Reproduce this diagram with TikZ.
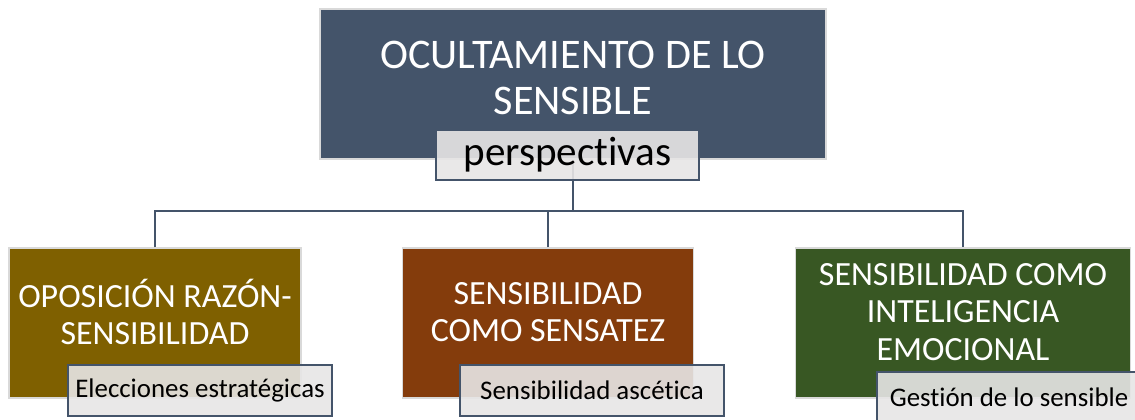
\documentclass[tikz,border=0pt]{standalone}
\usepackage{fontspec}
\setmainfont{Carlito}[Ligatures={NoCommon,NoContextual}]
\definecolor{slate}{HTML}{44546A}
\definecolor{gold}{HTML}{7F6000}
\definecolor{rust}{HTML}{843C0C}
\definecolor{moss}{HTML}{385723}
\definecolor{pale}{HTML}{E7E6E6}
\tikzset{
  bigbox/.style={draw=white!85!black, line width=.8pt, minimum height=3cm, inner sep=0pt},
  subbox/.style={draw=slate, line width=1.1pt, fill=pale, fill opacity=.9, text opacity=1,
    minimum height=1.02cm, minimum width=5.28cm, inner sep=0pt, font=\fontsize{15.3}{18}\selectfont},
  boxtext/.style={text=white, align=center, font=\fontsize{19.3}{21.3}\selectfont},
  link/.style={draw=slate, line width=1.1pt}
}
\begin{document}
\begin{tikzpicture}[x=.02cm, y=-.02cm]
        \clip (0, 0) rectangle (1135, 419);
        % top box
        \node[bigbox, fill=slate, minimum width=10.12cm] (title) at (573, 84) {};
        \node[text=white, align=center, font=\fontsize{24}{26.6}\selectfont] (titletext)
            at (573, 78) {OCULTAMIENTO DE LO\\SENSIBLE};
        % lower boxes
        \node[bigbox, fill=gold, minimum width=5.84cm] (razon) at (155, 323) {};
        \node[bigbox, fill=rust, minimum width=5.82cm] (sensatez) at (548, 323) {};
        \node[bigbox, fill=moss, minimum width=6.7cm] (emocion) at (963, 323) {};
        \node[boxtext] (razontext) at (155, 312) {OPOSICIÓN RAZÓN-\\SENSIBILIDAD};
        \node[boxtext] (sensateztext) at (548, 312) {SENSIBILIDAD\\COMO SENSATEZ};
        \node[boxtext] (emociontext) at (963, 312) {SENSIBILIDAD COMO\\INTELIGENCIA\\EMOCIONAL};
        % connectors
        \coordinate (hub) at (573, 211);
        \draw[link] (title.south) -- (hub);
        \draw[link] (razon.north) |- (hub) -| (emocion.north);
        \draw[link] (sensatez.north) -- (sensatez.north |- hub);
        % sub boxes
        \node[subbox, minimum width=5.26cm, minimum height=1cm, font=\fontsize{23.4}{26}\selectfont]
            (persp) at (567.5, 155) {\raisebox{-2pt}{perspectivas}};
        \node[subbox] (elecciones) at (200, 390.5) {Elecciones estratégicas};
        \node[subbox] (ascetica) at (592, 390.5) {Sensibilidad ascética};
        \node[subbox] (gestion) at (1009, 397.5) {Gestión de lo sensible};
\end{tikzpicture}
\end{document}
